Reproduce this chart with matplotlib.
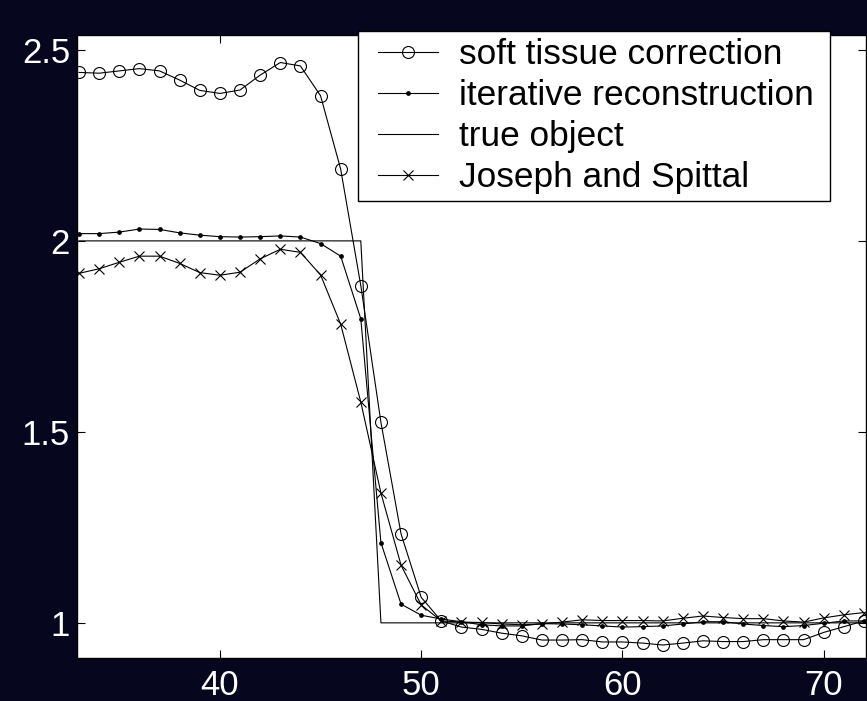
import matplotlib
matplotlib.use("Agg")
import matplotlib.pyplot as plt
from matplotlib.lines import Line2D
from matplotlib.legend_handler import HandlerLine2D

plt.rcParams['font.family'] = ['Liberation Sans', 'DejaVu Sans']

x = list(range(33, 73))

soft_tissue = [2.441, 2.439, 2.445, 2.451, 2.445, 2.421, 2.394, 2.386, 2.395, 2.434,
               2.467, 2.458, 2.380, 2.188, 1.883, 1.525, 1.233, 1.067, 1.005, 0.989,
               0.983, 0.973, 0.966, 0.955, 0.955, 0.956, 0.950, 0.950, 0.947, 0.942,
               0.947, 0.953, 0.951, 0.951, 0.956, 0.956, 0.956, 0.975, 0.990, 1.005]

iterative = [2.019, 2.019, 2.023, 2.031, 2.030, 2.021, 2.015, 2.011, 2.010, 2.011,
             2.013, 2.010, 1.993, 1.960, 1.796, 1.210, 1.049, 1.020, 1.010, 1.003,
             0.995, 0.992, 0.992, 0.998, 0.997, 0.995, 0.992, 0.989, 0.990, 0.992,
             0.997, 1.003, 1.003, 0.997, 0.993, 0.990, 0.993, 0.999, 1.005, 1.005]

true_object = [2, 2, 2, 2, 2, 2, 2, 2, 2, 2,
               2, 2, 2, 2, 2, 1, 1, 1, 1, 1,
               1, 1, 1, 1, 1, 1, 1, 1, 1, 1,
               1, 1, 1, 1, 1, 1, 1, 1, 1, 1]

joseph = [1.915, 1.927, 1.944, 1.960, 1.960, 1.941, 1.917, 1.910, 1.918, 1.953,
          1.978, 1.970, 1.911, 1.782, 1.578, 1.340, 1.151, 1.047, 1.005, 1.002,
          1.001, 0.997, 0.995, 0.997, 1.002, 1.008, 1.006, 1.006, 1.006, 1.005,
          1.012, 1.018, 1.014, 1.011, 1.011, 1.005, 1.002, 1.013, 1.021, 1.027]

labels = ["soft tissue correction", "iterative reconstruction", "true object", "Joseph and Spittal"]
xticks = [40, 50, 60, 70]
yticks = [1, 1.5, 2, 2.5]
ytick_labels = ["1", "1.5", "2", "2.5"]


class ShiftedLineHandler(HandlerLine2D):
    """Legend handle whose line starts a little to the right of the handle box."""
    def get_xdata(self, legend, xdescent, ydescent, width, height, fontsize):
        s = 0.375 * fontsize
        start = -xdescent + s
        end = -xdescent + width
        return [start, end], [0.5 * (start + end)]


W, H = 867, 701
bg = '#06061e'
fig = plt.figure(figsize=(W / 100, H / 100), dpi=100, facecolor=bg)
ax = fig.add_axes([77 / W, 1 - 658 / H, (866 - 77) / W, (658 - 35) / H])
ax.set_facecolor('white')

lw = 0.8
ax.plot(x, soft_tissue, color='black', lw=lw, marker='o', ms=8.6, mfc='none', mec='black', mew=0.8, label=labels[0])
ax.plot(x, iterative, color='black', lw=lw, marker='o', ms=2.4, mfc='black', mec='black', label=labels[1])
ax.plot(x, true_object, color='black', lw=lw, label=labels[2])
ax.plot(x, joseph, color='black', lw=lw, marker='x', ms=6.5, mew=0.8, label=labels[3])

ax.set_xlim(32.9, 72.1)
ax.set_ylim(0.908, 2.539)
ax.set_xticks(xticks)
ax.set_yticks(yticks)
ax.set_yticklabels(ytick_labels)
ax.tick_params(direction='in', length=6, width=0.8, top=True, right=True,
               labelsize=25, labelcolor='white', color='black')
ax.tick_params(axis='x', pad=8)
ax.tick_params(axis='y', pad=5)
for s in ax.spines.values():
    s.set_linewidth(1.0)
    s.set_color('black')

leg = ax.legend(loc='upper left', bbox_to_anchor=(358 / W, 1 - 200 / H, 472 / W, 169 / H),
                bbox_transform=fig.transFigure, mode='expand',
                borderaxespad=0, fontsize=25.4, frameon=True, fancybox=False, framealpha=1,
                edgecolor='black', handlelength=2.07, handletextpad=0.58, labelspacing=0.23,
                borderpad=0.2, handler_map={Line2D: ShiftedLineHandler()})
leg.get_frame().set_linewidth(1.0)

fig.savefig('out.png', dpi=100, facecolor=bg)
